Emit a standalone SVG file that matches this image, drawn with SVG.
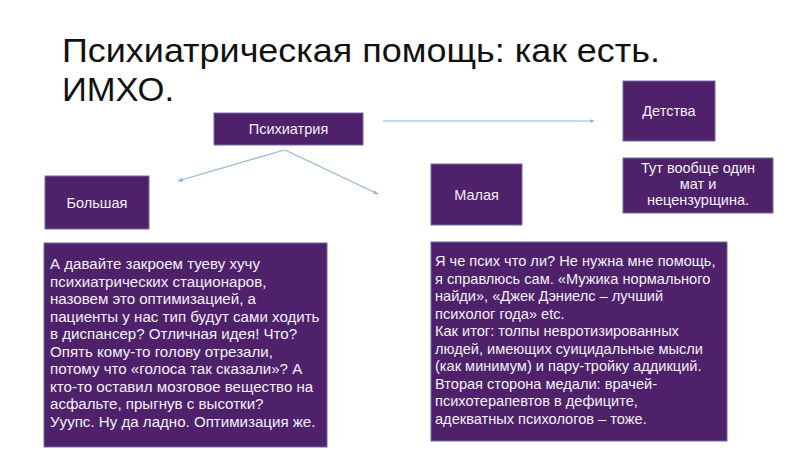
<svg xmlns="http://www.w3.org/2000/svg" width="800" height="450" viewBox="0 0 800 450">
<defs>
<style>
.box{fill:#4E216A;stroke:#6F6CA3;stroke-width:1}
.lbl{font-family:"Liberation Sans",Arial,sans-serif;font-size:14.5px;fill:#F4F0F7;text-anchor:middle}
.body{font-family:"Liberation Sans",Arial,sans-serif;font-size:14.6px;fill:#F4F0F7}
.bodyL{font-family:"Liberation Sans",Arial,sans-serif;font-size:15.1px;fill:#F4F0F7}
.title{font-family:"Liberation Sans",Arial,sans-serif;font-size:34px;fill:#111111}
.conn{stroke:#8DB3E2;stroke-width:1.2;fill:none;marker-end:url(#ah)}
</style>
<marker id="ah" viewBox="0 0 10 10" refX="9" refY="5" markerWidth="5" markerHeight="5" orient="auto" markerUnits="userSpaceOnUse">
<path d="M0,1 L10,5 L0,9 z" fill="#8DB3E2"/>
</marker>
</defs>
<rect width="800" height="450" fill="#FFFFFF"/>
<g id="title">
<text class="title" x="62" y="62" textLength="598" lengthAdjust="spacingAndGlyphs">Психиатрическая помощь: как есть.</text>
<text class="title" x="62" y="101" textLength="112" lengthAdjust="spacingAndGlyphs">ИМХО.</text>
</g>
<g id="connectors">
<line class="conn" x1="383" y1="121" x2="594" y2="121"/>
<line class="conn" x1="284" y1="150" x2="178" y2="181"/>
<line class="conn" x1="285" y1="150" x2="378" y2="194"/>
</g>
<g id="node-psychiatry">
<rect class="box" x="214" y="113" width="149" height="32"/>
<text class="lbl" x="288.5" y="134">Психиатрия</text>
</g>
<g id="node-childhood">
<rect class="box" x="623" y="81" width="92" height="60"/>
<text class="lbl" x="669" y="116">Детства</text>
</g>
<g id="node-childhood-note">
<rect class="box" x="623" y="158" width="150" height="55"/>
<text class="lbl" x="698" y="173">Тут вообще один</text>
<text class="lbl" x="698" y="189">мат и</text>
<text class="lbl" x="698" y="205">нецензурщина.</text>
</g>
<g id="node-big">
<rect class="box" x="45" y="176" width="104" height="53"/>
<text class="lbl" x="97" y="208">Большая</text>
</g>
<g id="node-small">
<rect class="box" x="431" y="164" width="91" height="61"/>
<text class="lbl" x="476.5" y="200">Малая</text>
</g>
<g id="node-big-note">
<rect class="box" x="44" y="243" width="283" height="204"/>
<text class="bodyL" x="50" y="269">А давайте закроем туеву хучу</text>
<text class="bodyL" x="50" y="286.5">психиатрических стационаров,</text>
<text class="bodyL" x="50" y="304">назовем это оптимизацией, а</text>
<text class="bodyL" x="50" y="321.5">пациенты у нас тип будут сами ходить</text>
<text class="bodyL" x="50" y="339">в диспансер? Отличная идея! Что?</text>
<text class="bodyL" x="50" y="356.5">Опять кому-то голову отрезали,</text>
<text class="bodyL" x="50" y="374">потому что «голоса так сказали»? А</text>
<text class="bodyL" x="50" y="391.5">кто-то оставил мозговое вещество на</text>
<text class="bodyL" x="50" y="409">асфальте, прыгнув с высотки?</text>
<text class="bodyL" x="50" y="426.5">Ууупс. Ну да ладно. Оптимизация же.</text>
</g>
<g id="node-small-note">
<rect class="box" x="431" y="242" width="296" height="199"/>
<text class="body" x="435" y="266">Я че псих что ли? Не нужна мне помощь,</text>
<text class="body" x="435" y="283.5">я справлюсь сам. «Мужика нормального</text>
<text class="body" x="435" y="301">найди», «Джек Дэниелс – лучший</text>
<text class="body" x="435" y="318.5">психолог года» etc.</text>
<text class="body" x="435" y="336">Как итог: толпы невротизированных</text>
<text class="body" x="435" y="353.5">людей, имеющих суицидальные мысли</text>
<text class="body" x="435" y="371">(как минимум) и пару-тройку аддикций.</text>
<text class="body" x="435" y="388.5">Вторая сторона медали: врачей-</text>
<text class="body" x="435" y="406">психотерапевтов в дефиците,</text>
<text class="body" x="435" y="423.5">адекватных психологов – тоже.</text>
</g>
</svg>
